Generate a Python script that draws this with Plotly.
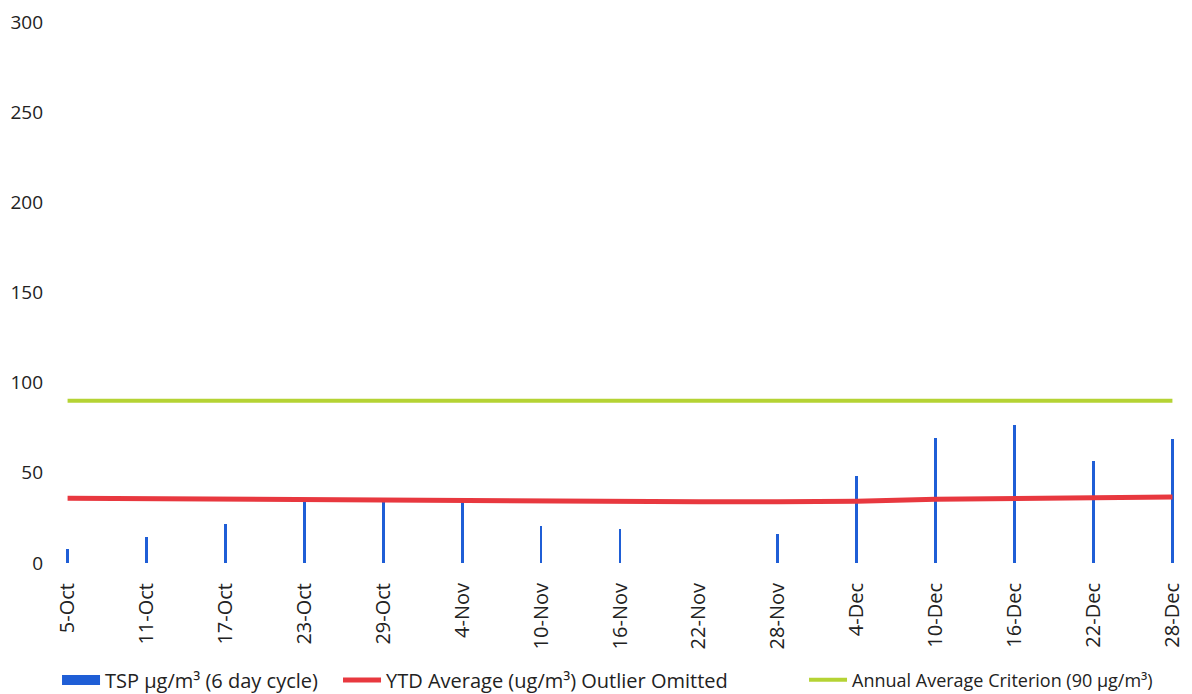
import plotly.graph_objects as go

categories = ["5-Oct", "11-Oct", "17-Oct", "23-Oct", "29-Oct", "4-Nov", "10-Nov", "16-Nov",
              "22-Nov", "28-Nov", "4-Dec", "10-Dec", "16-Dec", "22-Dec", "28-Dec"]
tsp = [7.8, 14.6, 21.6, 34.0, 34.0, 34.0, 20.5, 18.7, None, 15.9, 48.0, 69.4, 76.7, 56.6, 69.0]
ytd_avg = [35.9, 35.6, 35.2, 34.8, 34.6, 34.4, 34.2, 34.0, 33.9, 33.9, 34.2, 35.3, 35.9, 36.1, 36.6]
criterion = [90] * len(categories)
y_ticks = [0, 50, 100, 150, 200, 250, 300]

FONT = "Open Sans"
BLUE = "#1f5ed6"

fig = go.Figure()
fig.add_trace(go.Bar(
    x=categories, y=tsp, name="TSP µg/m³ (6 day cycle)", showlegend=False,
    legendgroup="tsp", marker=dict(color=BLUE, line=dict(width=0)), width=0.035,
))
# legend entry for the bars, drawn as a wide swatch
fig.add_trace(go.Scatter(
    x=[categories[0]], y=[None], mode="lines", name="TSP µg/m³ (6 day cycle)",
    legendgroup="tsp", legend="legend", line=dict(color=BLUE, width=12), hoverinfo="skip",
))
fig.add_trace(go.Scatter(
    x=categories, y=ytd_avg, mode="lines", name="YTD Average (ug/m³) Outlier Omitted",
    legend="legend2", line=dict(color="#e8383f", width=5),
))
fig.add_trace(go.Scatter(
    x=categories, y=criterion, mode="lines", name="Annual Average Criterion (90 µg/m³)",
    legend="legend3", line=dict(color="#b5d334", width=4),
))

PLOT_H = 694 - 14 - 139
leg_y = -(680 - 563) / PLOT_H
leg_common = dict(orientation="h", xanchor="left", y=leg_y, yanchor="middle",
                  itemwidth=38, bgcolor="rgba(0,0,0,0)")
fig.update_layout(
    width=1192, height=694,
    margin=dict(l=58, r=26, t=14, b=139, autoexpand=False),
    paper_bgcolor="white", plot_bgcolor="white",
    font=dict(family=FONT, color="#222222", size=16),
    showlegend=True,
    legend=dict(x=-0.0081, font=dict(size=20, color="#222222"), **leg_common),
    legend2=dict(x=0.2455, font=dict(size=20, color="#222222"), **leg_common),
    legend3=dict(x=0.6661, font=dict(size=18, color="#222222"), **leg_common),
    bargap=0,
)
fig.update_xaxes(
    type="category", range=[-0.02, 14.02], tickangle=-90, automargin=False,
    showgrid=False, showline=False, zeroline=False, ticks="",
    ticklabelstandoff=15, tickfont=dict(size=20, color="#222222"),
)
fig.update_yaxes(
    range=[0, 300], tickvals=y_ticks, showgrid=False, showline=False, zeroline=False,
    automargin=False, ticks="", ticklabelstandoff=22, ticklabeloverflow="allow",
    tickfont=dict(size=19, color="#222222"),
)

fig.write_html("out.html")
